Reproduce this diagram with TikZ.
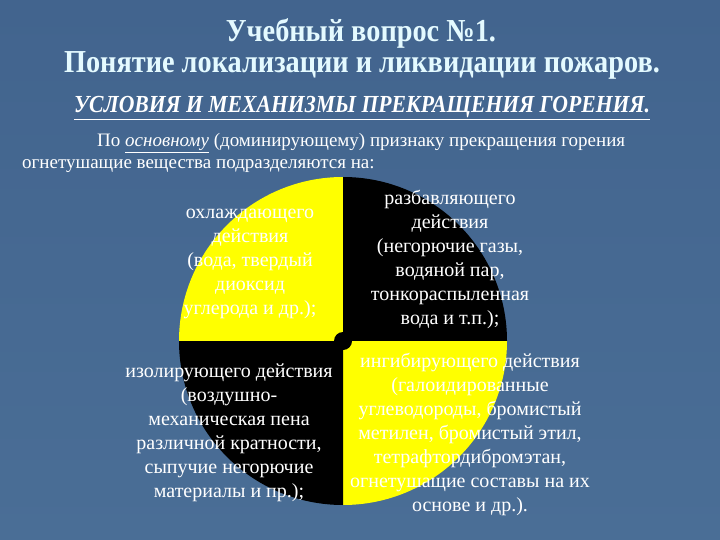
\documentclass[tikz,border=0pt]{standalone}
\usepackage{fontspec}
\setmainfont{Liberation Serif}
\newfontfamily\narrowserif[FakeStretch=0.885]{Liberation Serif}
\usepackage{tikz}
\usetikzlibrary{positioning,calc}
\definecolor{slidebg}{RGB}{74,110,150}
\definecolor{slidetop}{RGB}{66,100,142}
\definecolor{titlecyan}{RGB}{228,250,255}
\definecolor{pieyellow}{RGB}{255,255,0}
\tikzset{caption/.style = {
    text=white, align=center, inner sep=0pt,
    font=\fontsize{20}{24}\selectfont
  }
}

\begin{document}
\begin{tikzpicture}[x=1pt, y=-1pt]
  % background
  \shade[top color=slidetop, bottom color=slidebg] (0,0) rectangle (720,540);
  \useasboundingbox (0,0) rectangle (720,540);

  % vertices
  \tikzstyle{heading} = [text=titlecyan, font=\narrowserif\bfseries\fontsize{32}{36}\selectfont, inner sep=0pt, anchor=base]
  \tikzstyle{subheading} = [text=white, font=\narrowserif\bfseries\itshape\fontsize{24.5}{28}\selectfont, inner sep=0pt, anchor=base]
  \tikzstyle{intro} = [text=white, font=\fontsize{19}{22}\selectfont, inner sep=0pt, align=left, anchor=north west]

  \node[heading] (title) at (361,42) {Учебный вопрос №1.};
  \node[heading] (topic) at (362,73) {Понятие локализации и ликвидации пожаров.};
  \node[subheading] (conditions) at (362,113) {\underline{УСЛОВИЯ И МЕХАНИЗМЫ ПРЕКРАЩЕНИЯ ГОРЕНИЯ.}};
  \node[intro] (lead) at (22,133) {\hspace*{75pt}По \textit{\underline{основному}} (доминирующему) признаку прекращения горения\\огнетушащие вещества подразделяются на:};

  % pie
  \coordinate (centre) at (343,341);
  \fill[pieyellow] (centre) -- ++(-164,0) arc[start angle=180, end angle=270, radius=164] -- cycle;
  \fill[black] (centre) -- ++(0,-164) arc[start angle=270, end angle=360, radius=164] -- cycle;
  \fill[pieyellow] (centre) -- ++(164,0) arc[start angle=0, end angle=90, radius=164] -- cycle;
  \fill[black] (centre) -- ++(0,164) arc[start angle=90, end angle=180, radius=164] -- cycle;
  \fill[black] (centre) circle[radius=9];

  \node[caption] (cooling) at (250,264) {охлаждающего\\действия\\(вода, твердый\\диоксид\\углерода и др.);};
  \node[caption] (diluting) at (450,259) {разбавляющего\\действия\\(негорючие газы,\\водяной пар,\\тонкораспыленная\\вода и т.п.);};
  \node[caption] (isolating) at (229,433) {изолирующего действия\\(воздушно-\\механическая пена\\различной кратности,\\сыпучие негорючие\\материалы и пр.);};
  \node[caption] (inhibiting) at (470,434) {ингибирующего действия\\(галоидированные\\углеводороды, бромистый\\метилен, бромистый этил,\\тетрафтордибромэтан,\\огнетушащие составы на их\\основе и др.).};
\end{tikzpicture}
\end{document}
